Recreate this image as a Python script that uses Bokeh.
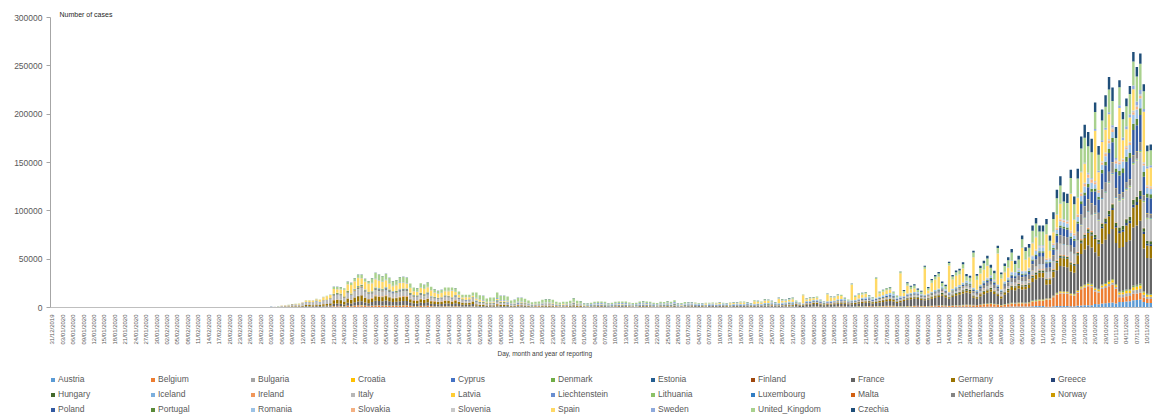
import math
import numpy as np
import pandas as pd
from bokeh.plotting import figure
from bokeh.layouts import column
from bokeh.models import (Range1d, FixedTicker, NumeralTickFormatter, Legend, LegendItem,
                          Title, ColumnDataSource)
from bokeh.embed import file_html
from bokeh.resources import INLINE

# ---------------- data ----------------
first_day = "2019-12-31"
n_days = 317

countries = ["Austria", "Belgium", "Bulgaria", "Croatia", "Cyprus", "Denmark", "Estonia",
             "Finland", "France", "Germany", "Greece", "Hungary", "Iceland", "Ireland",
             "Italy", "Latvia", "Liechtenstein", "Lithuania", "Luxembourg", "Malta",
             "Netherlands", "Norway", "Poland", "Portugal", "Romania", "Slovakia",
             "Slovenia", "Spain", "Sweden", "United_Kingdom", "Czechia"]

colors = ["#5B9BD5", "#ED7D31", "#A5A5A5", "#FFC000", "#4472C4", "#70AD47", "#255E91",
          "#9E480E", "#636363", "#997300", "#264478", "#43682B", "#7CAFDD", "#F1975A",
          "#B7B7B7", "#FFCD33", "#698ED0", "#8CC168", "#327DC2", "#D26012", "#848484",
          "#CC9A00", "#335AA1", "#5A8A39", "#9DC3E6", "#F4B183", "#C9C9C9", "#FFD966",
          "#8FAADC", "#A9D18E", "#1F4E79"]

# daily total of all countries, 31/12/2019 .. 11/11/2020
total_cases = (
    [0] * 25 +
    [3, 0, 0, 4, 1, 0, 8, 3, 1, 2, 1, 0, 1, 0, 3, 1, 2, 0, 0, 1, 0, 0, 0, 0, 0, 0, 1, 3] +
    [20, 70, 60, 110, 130, 150, 330, 300, 500, 620, 650, 850, 1200] +
    [2100, 2400, 2800, 3500, 3800, 4100, 5500, 7600, 7600, 7600, 9000, 8300, 11100, 12100,
     13500, 21400, 21400, 21100, 20000, 27000, 25600, 30400, 34200, 34200, 29700, 27300,
     30400, 35900, 34200, 32500, 34900, 30800, 27300, 28400, 31500, 31800] +
    [31100, 24900, 20800, 20100, 25200, 23500, 26000, 21500, 19100, 17300, 18300, 20800,
     20800, 20800, 20100, 16600, 13200, 13200, 13200, 15600, 15600, 12800, 12100, 9400,
     10400, 10400, 15600, 12100, 12100, 11400, 7300, 7900, 10000, 10000, 9000, 7300, 5500] +
    [6000, 6200, 8000, 8700, 8700, 8000, 6000, 5300, 6000, 6000, 7000, 9700,
     7000, 6600, 4300, 4300, 5000, 6000, 6300, 6300, 6000, 4300, 5000, 6000,
     6300, 6300, 6300, 5300, 4700, 5000, 6300, 6600, 6300, 6000, 5000, 4700,
     6000, 5700, 6600, 6000, 7600, 4300, 4700, 5700, 5700, 5700, 5300, 4700,
     4300, 5000, 5000, 5300, 5000, 5700, 5000, 4300, 5300, 5700, 5700, 6300,
     6300, 5700, 4300, 7600, 7000, 6300, 8700, 8300, 7000, 5700, 10400, 8700] +
    [8300, 9700, 10400, 7300, 5500, 13500, 9500, 10500, 10800, 11500,
     8000, 6200, 14500, 11600, 11400, 13700, 13300, 10100, 8400, 24900,
     12100, 14600, 15200, 16100, 13000, 10700, 31100, 16300, 18400, 20200,
     21200, 16300, 12100, 37300, 18100, 26200, 22600, 24000, 19700, 17300,
     43200, 21200, 29400, 33500, 36600, 27000, 23600, 47400, 33700, 38300, 40100] +
    [46700, 34600, 32900, 58800, 34600, 43200, 48400, 53600, 44300, 38100,
     64000, 36300, 45600, 51900, 60500, 48400, 53600, 74400, 62200, 65700,
     84700, 92700, 84700, 84700, 91600, 74400, 98600, 121700, 135900, 119300,
     117600, 142500, 114800, 143500, 177000, 189100, 181500, 174600, 212000, 167000,
     204700, 219500, 238500, 227500, 186700, 235100, 202200, 216100, 229200, 264400,
     248900, 262800, 231000, 167700, 168700]
)

# Spain, daily, from 01/03/2020 (day 61) on, one row per week (Sun..Sat)
spain_start = 61
spain_cases = [
    30, 40, 50, 60, 60, 100, 120,
    240, 450, 600, 750, 900, 1200, 1500,
    1900, 1400, 1900, 2800, 3400, 3000, 4900,
    3700, 4300, 6600, 6800, 8600, 7900, 8200,
    6500, 7800, 8500, 8200, 8200, 7700, 7000,
    6900, 6000, 5000, 5500, 6300, 5700, 5000,
    4800, 3800, 3500, 5000, 5100, 5200, 6000,
    4500, 3900, 4200, 4200, 4600, 6700, 3000,
    2900, 1800, 2500, 2100, 1200, 1800, 1700,
    1000, 1000, 900, 1100, 1000, 1100, 1100,
    1000, 600, 600, 400, 500, 600, 500,
    500, 500, 300, 400, 500, 600, 500,
    480, 400, 700, 500, 900, 400, 600,
    300, 300, 200, 300, 400, 300, 350,
    250, 250, 300, 300, 400, 500, 300,
    300, 300, 400, 300, 600, 400, 300,
    300, 300, 300, 300, 400, 500, 300,
    100, 700, 300, 300, 400, 450, 0,
    0, 1200, 300, 350, 850, 900, 0,
    0, 1500, 1000, 700, 1600, 1400, 0,
    0, 2700, 1400, 1400, 2600, 2300, 0,
    0, 4600, 2000, 1200, 1500, 3000, 0,
    0, 8500, 1500, 2500, 1700, 1900, 0,
    0, 7000, 3600, 2900, 3600, 3000, 0,
    0, 16000, 3000, 3700, 3400, 3700, 0,
    0, 19000, 3000, 3600, 3800, 3700, 0,
    0, 23500, 3100, 8000, 3400, 3900, 0,
    0, 26500, 2900, 8900, 10800, 12200, 0,
    0, 27400, 9400, 11200, 10900, 14400, 0,
    0, 31400, 10000, 11300, 10700, 12300, 0,
    0, 31800, 11000, 9400, 9900, 11000, 0,
    0, 23500, 11000, 10500, 12400, 12700, 0,
    0, 25000, 7000, 11000, 13300, 15200, 0,
    0, 37900, 13900, 16900, 20900, 19900, 0,
    0, 52200, 18400, 19800, 23600, 25600, 0,
    0, 55000, 18700, 17200, 25000, 22000, 0,
    0, 52400, 17400, 19500,
]

# typical daily cases of the other countries in each reporting period
period_start = [0, 61, 81, 92, 122, 153, 183, 214, 245, 265, 286, 300, 307]
weights = {
    "Austria":        [0, 250, 600, 250, 50, 40, 100, 200, 600, 800, 1500, 4500, 7000],
    "Belgium":        [0, 150, 1000, 1300, 400, 100, 200, 500, 800, 2500, 12000, 16000, 6000],
    "Bulgaria":       [0, 5, 30, 40, 50, 100, 250, 150, 100, 150, 700, 2000, 3500],
    "Croatia":        [0, 5, 60, 50, 10, 30, 100, 200, 200, 200, 800, 2000, 2800],
    "Cyprus":         [0, 5, 20, 20, 5, 2, 5, 10, 10, 20, 50, 150, 200],
    "Denmark":        [0, 80, 200, 250, 80, 40, 30, 100, 250, 400, 500, 800, 1100],
    "Estonia":        [0, 15, 50, 40, 10, 1, 2, 10, 30, 30, 50, 80, 120],
    "Finland":        [0, 20, 100, 100, 50, 10, 10, 20, 60, 100, 150, 200, 250],
    "France":         [2, 500, 3000, 3500, 600, 500, 700, 3000, 8500, 11000, 24000, 45000, 55000],
    "Germany":        [3, 800, 4500, 3500, 800, 400, 450, 1200, 1500, 2500, 8000, 17000, 19000],
    "Greece":         [0, 20, 80, 50, 10, 10, 30, 200, 250, 300, 600, 1800, 2800],
    "Hungary":        [0, 5, 40, 100, 40, 10, 15, 100, 700, 800, 1500, 3500, 4500],
    "Iceland":        [0, 20, 60, 30, 1, 1, 5, 10, 20, 50, 50, 20, 20],
    "Ireland":        [0, 30, 250, 600, 200, 20, 20, 100, 250, 500, 1000, 600, 450],
    "Italy":          [30, 2000, 5500, 4000, 1200, 300, 250, 600, 1400, 2500, 10000, 26000, 33000],
    "Latvia":         [0, 5, 30, 20, 10, 2, 2, 5, 10, 20, 60, 150, 250],
    "Liechtenstein":  [0, 1, 5, 2, 0, 0, 0, 1, 2, 2, 10, 30, 30],
    "Lithuania":      [0, 5, 50, 40, 15, 10, 10, 20, 50, 80, 250, 700, 1300],
    "Luxembourg":     [0, 20, 150, 80, 10, 10, 80, 50, 50, 80, 300, 700, 700],
    "Malta":          [0, 5, 10, 15, 5, 2, 2, 40, 50, 50, 70, 130, 150],
    "Netherlands":    [0, 150, 1000, 1000, 300, 150, 250, 500, 1300, 3500, 7500, 9000, 6000],
    "Norway":         [0, 100, 300, 150, 20, 20, 15, 60, 100, 100, 150, 400, 550],
    "Poland":         [0, 20, 200, 350, 350, 350, 400, 700, 700, 2000, 7500, 18000, 24000],
    "Portugal":       [0, 40, 700, 600, 300, 300, 300, 200, 500, 800, 2000, 3800, 6000],
    "Romania":        [0, 15, 200, 350, 250, 300, 900, 1200, 1300, 2000, 4000, 5500, 8500],
    "Slovakia":       [0, 5, 30, 40, 5, 5, 10, 50, 100, 400, 1800, 2500, 2300],
    "Slovenia":       [0, 15, 50, 30, 3, 5, 15, 20, 50, 200, 800, 1500, 1700],
    "Sweden":         [0, 60, 300, 500, 550, 900, 400, 200, 200, 400, 600, 2000, 3500],
    "United_Kingdom": [0, 150, 2500, 4500, 3500, 1300, 700, 1100, 3000, 7000, 17000, 22000, 23000],
    "Czechia":        [0, 30, 250, 200, 60, 100, 200, 250, 1500, 3000, 9000, 12000, 9000],
}

# ---------------- build series ----------------
dates = pd.date_range(first_day, periods=n_days)
date_labels = [d.strftime("%d/%m/%Y") for d in dates]
x = np.arange(n_days)

spain = np.zeros(n_days)
spain[spain_start:spain_start + len(spain_cases)] = spain_cases
total = np.array(total_cases, dtype=float)
rest = np.clip(total - spain, 0, None)

others = [c for c in countries if c != "Spain"]
W = np.array([weights[c] for c in others], dtype=float)
W = W / W.sum(axis=0)
pidx = np.searchsorted(period_start, x, side="right") - 1

data = {"x": x}
for i, c in enumerate(others):
    data[c] = rest * W[i, pidx]
data["Spain"] = spain
source = ColumnDataSource(data)

# ---------------- main figure ----------------
FONT = "Liberation Sans"
p = figure(width=1160, height=360, x_range=Range1d(-0.5, n_days - 0.5),
           y_range=Range1d(0, 300000), output_backend="svg", toolbar_location=None,
           min_border_left=48, min_border_right=8, min_border_top=17, min_border_bottom=53)
p.outline_line_color = None
p.xgrid.visible = False
p.ygrid.visible = False
p.background_fill_color = "white"

rs = p.vbar_stack(countries, x="x", width=0.7, color=colors, line_color=None, source=source)

ticks = list(range(0, n_days, 3))
p.xaxis.ticker = FixedTicker(ticks=ticks)
p.xaxis.major_label_overrides = {t: date_labels[t] for t in ticks}
p.xaxis.major_label_orientation = math.pi / 2
p.xaxis.major_label_text_font_size = "6px"
p.xaxis.major_label_text_font = FONT
p.xaxis.major_label_text_color = "#595959"
p.xaxis.major_label_standoff = 1
p.xaxis.major_tick_line_color = None
p.xaxis.minor_tick_line_color = None
p.xaxis.axis_line_color = "#BFBFBF"

p.yaxis.ticker = FixedTicker(ticks=list(range(0, 300001, 50000)))
p.yaxis.formatter = NumeralTickFormatter(format="0")
p.yaxis.major_label_text_font_size = "8.5px"
p.yaxis.major_label_text_font = FONT
p.yaxis.major_label_text_color = "#595959"
p.yaxis.major_label_standoff = 4
p.yaxis.major_tick_out = 4
p.yaxis.major_tick_in = 0
p.yaxis.major_tick_line_color = "#A6A6A6"
p.yaxis.minor_tick_line_color = None
p.yaxis.axis_line_color = "#A6A6A6"

p.title = Title(text="Number of cases", align="left", offset=9, standoff=0,
                text_font=FONT, text_font_size="7px", text_font_style="normal",
                text_color="#262626")

xt = Title(text="Day, month and year of reporting", align="left", offset=447,
           text_font=FONT, text_font_size="6.5px", text_font_style="normal",
           text_color="#404040", standoff=0)
p.add_layout(xt, "below")

# ---------------- legend figure ----------------
pl = figure(width=1160, height=60, x_range=Range1d(0, 1), y_range=Range1d(0, 1),
            output_backend="svg", toolbar_location=None, x_axis_location=None,
            y_axis_location=None, min_border_left=50, min_border_right=0,
            min_border_top=13, min_border_bottom=0)
pl.outline_line_color = None
pl.xgrid.visible = False
pl.ygrid.visible = False

items = []
for c, col in zip(countries, colors):
    # zero-height proxy bar: only used to give the legend entry its colour
    r = pl.vbar(x=[0.5], top=[0], bottom=[0], width=0.0, color=col, line_color=None)
    items.append(LegendItem(label=c, renderers=[r]))

legend = Legend(items=items, orientation="horizontal", ncols=11, location="top_left",
                glyph_width=5, glyph_height=5, label_standoff=3, label_width=89,
                label_height=12, spacing=3, padding=0, margin=0,
                label_text_font=FONT, label_text_font_size="8.5px",
                label_text_color="#595959", border_line_color=None,
                background_fill_alpha=0)
pl.add_layout(legend)

layout = column(p, pl, spacing=0)
open("out.html", "w").write(file_html(layout, INLINE))
